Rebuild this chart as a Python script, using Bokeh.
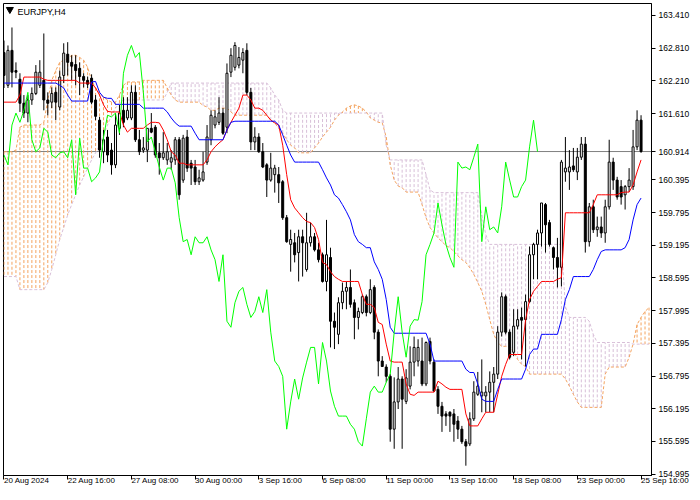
from bokeh.plotting import figure
from bokeh.models import Range1d, FixedTicker, PrintfTickFormatter, Label, Span, ColumnDataSource
from bokeh.embed import file_html
from bokeh.resources import INLINE

symbol = "EURJPY,H4"
tick_bars = [0, 16, 32, 48, 64, 80, 96, 112, 128, 144, 160]
tick_labels = ["20 Aug 2024", "22 Aug 16:00", "27 Aug 08:00", "30 Aug 00:00", "3 Sep 16:00",
               "6 Sep 08:00", "11 Sep 00:00", "13 Sep 16:00", "18 Sep 08:00", "23 Sep 00:00",
               "25 Sep 16:00"]
price_ticks = [163.410, 162.810, 162.210, 161.610, 161.010, 160.395, 159.795, 159.195,
               158.595, 157.995, 157.395, 156.795, 156.195, 155.595, 154.995]
last_price = 160.914
chikou_shift = 26

open_prices = [
    162.73, 162.13, 162.77, 162.40, 162.24, 161.80, 161.62, 161.86, 161.98, 162.13,
    162.22, 161.86, 161.82, 162.00, 161.73, 162.31, 162.70, 162.55, 162.51, 162.44,
    162.29, 162.22, 162.26, 161.86, 161.49, 160.91, 161.18, 160.94, 160.67, 161.34,
    161.67, 161.53, 161.53, 162.00, 161.13, 160.94, 160.94, 161.34, 161.36, 160.89,
    160.80, 160.76, 160.72, 160.76, 161.13, 160.39, 161.18, 160.70, 160.63, 160.36,
    160.39, 160.72, 161.13, 161.40, 161.45, 161.62, 161.36, 162.37, 162.46, 162.50,
    162.59, 162.77, 162.00, 161.09, 161.18, 160.91, 160.67, 160.39, 160.49, 160.49,
    160.36, 159.70, 159.21, 159.24, 159.06, 159.35, 158.75, 159.24, 159.35, 159.11,
    159.02, 158.53, 158.97, 157.80, 157.56, 158.14, 158.35, 158.42, 158.14, 157.87,
    157.96, 158.25, 157.96, 158.42, 157.60, 157.07, 156.96, 156.79, 155.82, 156.32,
    156.74, 156.33, 156.61, 157.05, 157.07, 157.07, 156.65, 157.43, 157.05, 156.55,
    156.24, 156.10, 156.13, 156.10, 155.97, 155.82, 155.59, 155.55, 156.01, 156.46,
    156.43, 156.43, 156.50, 156.68, 156.83, 157.60, 158.25, 157.60, 157.23, 157.71,
    157.87, 157.83, 158.16, 159.02, 159.21, 159.42, 159.94, 159.61, 159.15, 158.97,
    158.79, 160.54, 160.54, 160.65, 160.54, 160.81, 161.05, 159.26, 159.90, 159.48,
    159.53, 159.42, 159.90, 160.72, 160.39, 160.27, 160.12, 160.27, 160.27, 161.00,
    161.49]
high_prices = [
    162.95, 162.86, 163.19, 162.55, 162.35, 161.95, 161.95, 162.09, 162.50, 162.59,
    163.08, 162.00, 162.09, 162.09, 162.40, 162.90, 162.92, 162.68, 162.68, 162.55,
    162.35, 162.29, 162.33, 161.95, 161.55, 161.31, 161.31, 161.07, 161.62, 161.77,
    161.91, 161.91, 162.13, 162.13, 161.31, 161.18, 161.34, 161.62, 161.40, 161.07,
    161.27, 161.07, 160.94, 161.18, 161.18, 161.22, 161.31, 160.76, 160.76, 160.58,
    160.91, 161.40, 161.67, 161.67, 161.91, 161.71, 162.53, 162.81, 162.92, 162.83,
    162.81, 162.90, 162.08, 161.36, 161.25, 161.07, 160.70, 160.89, 160.67, 160.63,
    160.39, 159.75, 159.48, 159.42, 159.48, 159.48, 159.79, 159.61, 159.42, 159.24,
    159.06, 159.66, 159.15, 157.96, 158.24, 158.51, 158.53, 158.75, 158.20, 158.05,
    158.29, 158.29, 158.57, 158.46, 157.65, 157.16, 157.01, 156.83, 156.77, 156.96,
    156.79, 156.92, 157.34, 157.52, 157.47, 157.50, 157.43, 157.50, 157.10, 156.61,
    156.32, 156.15, 156.15, 156.19, 156.06, 155.88, 155.64, 156.13, 156.70, 156.87,
    157.10, 156.61, 156.88, 156.96, 157.71, 158.33, 158.29, 157.65, 158.02, 158.02,
    158.05, 158.29, 159.17, 159.24, 159.48, 159.97, 159.97, 159.66, 159.17, 159.33,
    160.76, 161.18, 160.94, 160.98, 160.98, 161.18, 161.18, 159.97, 160.03, 159.72,
    159.72, 160.03, 161.13, 160.80, 160.45, 160.39, 160.30, 160.61, 161.31, 161.67,
    161.58]
low_prices = [
    162.08, 162.08, 162.09, 162.26, 161.64, 161.53, 161.45, 161.77, 161.95, 162.08,
    161.67, 161.58, 161.71, 161.49, 161.67, 162.17, 162.31, 162.22, 162.13, 161.95,
    162.09, 162.08, 161.78, 161.49, 160.80, 160.70, 160.72, 160.49, 160.61, 161.22,
    161.36, 161.49, 161.49, 161.09, 160.85, 160.89, 160.72, 161.25, 160.80, 160.49,
    160.76, 160.67, 160.58, 160.67, 160.03, 160.34, 160.54, 160.30, 160.30, 160.30,
    160.36, 160.67, 161.03, 161.34, 161.40, 161.22, 161.25, 162.28, 162.40, 162.44,
    162.35, 161.95, 160.94, 160.94, 160.89, 160.61, 160.08, 160.36, 160.16, 159.97,
    159.66, 159.24, 158.71, 158.88, 158.53, 158.62, 158.71, 159.17, 159.08, 158.88,
    158.51, 158.35, 157.32, 157.29, 157.38, 158.02, 158.02, 158.05, 157.47, 157.65,
    157.93, 157.89, 157.93, 157.47, 156.79, 156.96, 156.68, 155.59, 155.46, 156.19,
    155.46, 156.28, 156.55, 156.79, 156.97, 156.61, 156.61, 157.01, 156.50, 156.10,
    155.77, 155.88, 155.77, 155.59, 155.64, 155.55, 155.15, 155.51, 155.97, 156.43,
    156.13, 156.13, 156.13, 156.13, 156.74, 157.52, 157.56, 157.10, 157.16, 157.65,
    157.10, 156.97, 158.14, 158.57, 158.57, 159.17, 159.06, 159.17, 158.75, 158.42,
    158.44, 160.36, 160.21, 160.54, 160.39, 160.76, 159.06, 159.17, 159.42, 159.35,
    159.33, 159.24, 159.85, 160.21, 160.03, 159.94, 159.85, 160.17, 160.21, 160.94,
    160.89]
close_prices = [
    162.31, 162.77, 162.37, 162.37, 161.80, 161.62, 161.86, 161.98, 162.37, 162.37,
    161.86, 161.80, 161.98, 161.82, 162.28, 162.72, 162.55, 162.48, 162.40, 162.29,
    162.22, 162.15, 161.82, 161.56, 160.94, 161.13, 160.85, 160.67, 161.40, 161.62,
    161.45, 161.67, 162.00, 161.13, 160.91, 160.98, 161.34, 161.27, 160.85, 160.80,
    160.89, 160.91, 160.80, 161.13, 160.12, 161.16, 160.61, 160.61, 160.36, 160.43,
    160.54, 161.18, 161.58, 161.55, 161.62, 161.25, 162.35, 162.68, 162.86, 162.64,
    162.73, 162.00, 161.09, 161.18, 160.91, 160.63, 160.39, 160.61, 160.61, 160.34,
    159.70, 159.26, 159.30, 159.02, 159.35, 159.24, 159.24, 159.35, 159.11, 158.93,
    158.53, 159.02, 157.80, 157.69, 158.14, 158.35, 158.42, 158.11, 157.87, 157.98,
    158.25, 157.96, 158.38, 157.60, 157.07, 156.97, 156.79, 155.82, 156.32, 156.74,
    156.37, 156.76, 157.05, 157.32, 157.32, 156.65, 157.41, 157.07, 156.52, 156.24,
    156.06, 156.06, 156.06, 155.91, 155.82, 155.59, 155.51, 156.01, 156.50, 156.61,
    156.50, 156.50, 156.68, 156.83, 157.60, 158.25, 157.60, 157.14, 157.71, 157.83,
    157.82, 158.16, 159.02, 159.21, 159.42, 159.97, 159.57, 159.21, 158.97, 158.79,
    160.72, 160.61, 160.63, 160.58, 160.81, 161.05, 159.26, 159.90, 159.48, 159.53,
    159.42, 159.90, 160.72, 160.39, 160.08, 160.08, 160.27, 160.39, 161.00, 161.49,
    160.914]
tenkan_sen = [
    161.82, 161.82, 161.82, 161.82, 161.95, 162.28, 162.28, 162.28, 162.28, 162.28,
    162.24, 162.22, 162.22, 162.22, 162.22, 162.22, 162.22, 162.22, 162.22, 162.17,
    162.17, 162.17, 162.17, 162.08, 161.95, 161.77, 161.65, 161.64, 161.64, 161.64,
    161.40, 161.27, 161.34, 161.34, 161.34, 161.34, 161.40, 161.45, 161.45, 161.44,
    161.31, 161.13, 160.91, 160.85, 160.70, 160.70, 160.67, 160.67, 160.67, 160.67,
    160.67, 160.76, 160.91, 161.00, 161.07, 161.13, 161.31, 161.45, 161.58, 161.71,
    161.95, 161.95, 161.86, 161.71, 161.71, 161.67, 161.58, 161.49, 161.44, 161.40,
    161.03, 160.49, 160.03, 159.88, 159.79, 159.70, 159.63, 159.61, 159.52, 159.30,
    158.88, 158.84, 158.71, 158.62, 158.57, 158.53, 158.53, 158.53, 158.53, 158.53,
    158.29, 158.11, 158.11, 158.05, 157.78, 157.74, 157.38, 157.07, 157.05, 157.05,
    157.05, 156.65, 156.46, 156.44, 156.50, 156.50, 156.50, 156.50, 156.50, 156.70,
    156.65, 156.59, 156.55, 156.55, 156.55, 156.55, 156.10, 155.88, 155.88, 155.88,
    156.01, 156.13, 156.13, 156.13, 156.46, 156.79, 157.01, 157.19, 157.19, 157.19,
    157.19, 157.83, 158.20, 158.35, 158.44, 158.53, 158.53, 158.53, 158.53, 158.57,
    158.60, 159.79, 159.79, 159.79, 159.79, 159.79, 159.79, 159.79, 159.94, 160.12,
    160.12, 160.12, 160.12, 160.12, 160.12, 160.16, 160.17, 160.17, 160.30, 160.54,
    160.76]
kijun_sen = [
    162.17, 162.17, 162.17, 162.17, 162.17, 162.17, 162.17, 162.17, 162.17, 162.17,
    162.17, 162.17, 162.17, 162.17, 162.13, 162.08, 161.95, 161.84, 161.84, 161.84,
    161.84, 161.84, 162.19, 162.20, 162.00, 161.91, 161.89, 161.89, 161.78, 161.78,
    161.78, 161.78, 161.78, 161.78, 161.78, 161.71, 161.71, 161.71, 161.71, 161.71,
    161.71, 161.64, 161.53, 161.44, 161.38, 161.38, 161.38, 161.38, 161.25, 161.13,
    161.13, 161.13, 161.13, 161.13, 161.13, 161.13, 161.31, 161.45, 161.47, 161.47,
    161.47, 161.47, 161.47, 161.47, 161.47, 161.47, 161.47, 161.47, 161.47, 161.40,
    161.22, 161.03, 160.85, 160.72, 160.72, 160.72, 160.72, 160.72, 160.72, 160.72,
    160.58, 160.43, 160.30, 160.12, 160.06, 159.94, 159.81, 159.66, 159.39, 159.26,
    159.21, 159.15, 159.15, 158.89, 158.75, 158.57, 158.20, 157.69, 157.58, 157.58,
    157.58, 157.58, 157.58, 157.58, 157.58, 157.58, 157.58, 157.38, 157.07, 157.07,
    157.07, 157.07, 157.07, 157.07, 157.07, 157.07, 156.92, 156.86, 156.86, 156.65,
    156.37, 156.33, 156.33, 156.33, 156.55, 156.74, 156.74, 156.74, 156.74, 156.74,
    156.74, 156.92, 157.19, 157.29, 157.29, 157.56, 157.56, 157.56, 157.56, 157.56,
    157.83, 158.20, 158.38, 158.62, 158.62, 158.62, 158.62, 158.62, 158.75, 158.93,
    159.08, 159.11, 159.11, 159.11, 159.11, 159.11, 159.15, 159.30, 159.66, 159.94,
    160.06]
senkou_a = [
    160.91, 160.91, 160.91, 160.94, 161.36, 161.40, 161.40, 161.40, 161.40, 161.40,
    161.45, 161.86, 162.22, 162.40, 162.55, 162.59, 162.62, 162.68, 162.68, 162.64,
    162.59, 162.46, 162.22, 162.08, 161.98, 161.91, 161.86, 161.82, 161.82, 161.95,
    162.13, 162.19, 162.19, 162.19, 162.19, 162.22, 162.22, 162.22, 162.22, 162.22,
    162.22, 162.08, 161.95, 161.86, 161.82, 161.82, 161.82, 161.82, 161.82, 161.82,
    161.76, 161.73, 161.67, 161.67, 161.71, 161.71, 161.71, 161.64, 161.58, 161.58,
    161.58, 161.58, 161.58, 161.58, 161.58, 161.58, 161.58, 161.49, 161.44, 161.34,
    161.25, 161.13, 161.03, 160.98, 160.89, 160.89, 160.89, 160.89, 160.98, 161.07,
    161.18, 161.27, 161.36, 161.49, 161.58, 161.64, 161.71, 161.75, 161.77, 161.75,
    161.71, 161.64, 161.53, 161.49, 161.45, 161.44, 161.18, 160.67, 160.39, 160.28,
    160.25, 160.17, 160.17, 160.17, 160.17, 159.94, 159.70, 159.52, 159.42, 159.33,
    159.26, 159.19, 159.15, 159.08, 159.00, 158.93, 158.88, 158.78, 158.66, 158.51,
    158.35, 158.11, 157.83, 157.56, 157.41, 157.34, 157.34, 157.34, 157.25, 157.10,
    157.01, 156.97, 156.83, 156.83, 156.83, 156.83, 156.83, 156.83, 156.83, 156.83,
    156.83, 156.74, 156.61, 156.46, 156.32, 156.22, 156.22, 156.22, 156.22, 156.22,
    156.22, 156.83, 156.96, 156.96, 156.96, 156.96, 156.96, 157.14, 157.38, 157.74,
    157.87, 157.98, 158.05]
senkou_b = [
    158.62, 158.62, 158.62, 158.62, 158.38, 158.38, 158.38, 158.38, 158.38, 158.38,
    158.38, 158.51, 158.75, 159.02, 159.30, 159.52, 159.75, 159.94, 160.12, 160.30,
    160.45, 160.61, 160.76, 160.89, 161.03, 161.22, 161.40, 161.58, 161.71, 161.80,
    161.86, 161.86, 161.86, 161.86, 161.86, 161.86, 161.86, 161.86, 161.86, 161.86,
    161.86, 162.00, 162.17, 162.17, 162.17, 162.17, 162.17, 162.17, 162.17, 162.17,
    162.17, 162.17, 162.17, 162.17, 162.17, 162.17, 162.17, 162.17, 162.17, 162.17,
    162.17, 162.17, 162.17, 162.17, 162.17, 162.17, 162.17, 162.08, 161.95, 161.86,
    161.67, 161.62, 161.62, 161.62, 161.62, 161.62, 161.62, 161.62, 161.62, 161.62,
    161.62, 161.62, 161.62, 161.62, 161.62, 161.62, 161.62, 161.62, 161.62, 161.62,
    161.62, 161.62, 161.62, 161.62, 161.62, 161.62, 161.03, 160.76, 160.76, 160.76,
    160.76, 160.76, 160.76, 160.76, 160.76, 160.76, 160.49, 160.21, 160.16, 160.16,
    160.16, 160.16, 160.16, 160.16, 160.16, 160.16, 160.16, 160.16, 160.16, 160.16,
    159.75, 159.39, 159.21, 159.21, 159.21, 159.21, 159.21, 159.21, 159.21, 159.21,
    159.21, 159.21, 159.21, 159.21, 159.21, 159.21, 159.21, 159.21, 159.21, 159.21,
    159.21, 158.07, 157.87, 157.87, 157.87, 157.87, 157.87, 157.80, 157.56, 157.41,
    157.41, 157.41, 157.41, 157.41, 157.41, 157.41, 157.41, 157.41, 157.38, 157.38,
    157.38, 157.38, 157.38]

FONT = "Liberation Sans"
SANDY = "#F4A460"
THISTLE = "#D8BFD8"

n = len(close_prices)
idx = list(range(n))

W, H = 692, 492
BL, BT, BR, BB = 3, 3, 38, 15
frame_w = W - BL - BR
x_start = -0.125
x_end = x_start + frame_w / 4.0
y_start, y_end = 154.97, 163.63

p = figure(width=W, height=H, x_range=Range1d(x_start, x_end),
           y_range=Range1d(y_start, y_end), output_backend="svg",
           toolbar_location=None, y_axis_location="right",
           min_border_left=BL, min_border_top=BT, min_border_right=BR, min_border_bottom=BB,
           background_fill_color="white", border_fill_color="white")
p.outline_line_color = "black"
p.outline_line_width = 1
p.xgrid.visible = False
p.ygrid.visible = False

# Bid price line
p.add_layout(Span(location=last_price, dimension="width", line_color="#808080",
                  line_width=1, level="underlay"))

# Ichimoku cloud: vertical dotted hatch between Senkou A and B
na = len(senkou_a)
cloud = ColumnDataSource(dict(
    x=list(range(na)), a=senkou_a, b=senkou_b,
    c=[SANDY if a >= b else THISTLE for a, b in zip(senkou_a, senkou_b)]))
p.segment(x0="x", y0="a", x1="x", y1="b", line_color="c", line_width=1,
          line_dash="3 2", source=cloud)
p.line(list(range(na)), senkou_a, line_color=SANDY, line_width=1, line_dash="3 2")
p.line(list(range(na)), senkou_b, line_color=THISTLE, line_width=1, line_dash="3 2")

# Candles
cs = ColumnDataSource(dict(
    x=idx, o=open_prices, h=high_prices, l=low_prices, c=close_prices,
    top=[max(o, c) for o, c in zip(open_prices, close_prices)],
    bot=[min(o, c) for o, c in zip(open_prices, close_prices)],
    fill=["white" if c > o else "black" for o, c in zip(open_prices, close_prices)]))
p.segment(x0="x", y0="l", x1="x", y1="h", line_color="black", line_width=1, source=cs)
p.vbar(x="x", width=0.5, top="top", bottom="bot", fill_color="fill",
       line_color="black", line_width=1, source=cs)

# Tenkan, Kijun, Chikou
p.line(idx, tenkan_sen, line_color="#FF0000", line_width=1)
p.line(idx, kijun_sen, line_color="#0000FF", line_width=1)
p.line(idx[:n - chikou_shift], close_prices[chikou_shift:], line_color="#00FF00", line_width=1)

# Right price axis (the last price replaces the label it would cover)
axis_ticks = [t for t in price_ticks if abs(t - last_price) > 0.15] + [last_price]
yax = p.yaxis[0]
yax.ticker = FixedTicker(ticks=axis_ticks)
yax.formatter = PrintfTickFormatter(format="%.3f")
yax.major_tick_out = 4
yax.major_tick_in = 0
yax.minor_tick_out = 0
yax.minor_tick_in = 0
yax.axis_line_color = "black"
yax.major_tick_line_color = "black"
yax.major_label_text_font = FONT
yax.major_label_text_font_size = "8.5px"
yax.major_label_text_color = "black"
yax.major_label_standoff = 3

# Bottom time axis, labels left-aligned at their ticks
xax = p.xaxis[0]
xax.ticker = FixedTicker(ticks=tick_bars)
xax.major_label_overrides = {b: t for b, t in zip(tick_bars, tick_labels)}
xax.major_label_orientation = -0.0001
xax.major_tick_out = 4
xax.major_tick_in = 0
xax.minor_tick_out = 0
xax.minor_tick_in = 0
xax.axis_line_color = "black"
xax.major_tick_line_color = "black"
xax.major_label_text_font = FONT
xax.major_label_text_font_size = "8px"
xax.major_label_text_color = "black"
xax.major_label_standoff = 1

# Symbol title
p.scatter(x=[x_start + 1.6], y=[y_end - 0.11], marker="inverted_triangle", size=7,
          fill_color="black", line_color="black")
p.add_layout(Label(x=x_start, y=y_end, text=symbol, text_align="left", text_baseline="top",
                   x_offset=14, y_offset=-3, text_font=FONT, text_font_size="9px",
                   text_color="black"))

open("out.html", "w").write(file_html(p, INLINE, "EURJPY,H4"))
